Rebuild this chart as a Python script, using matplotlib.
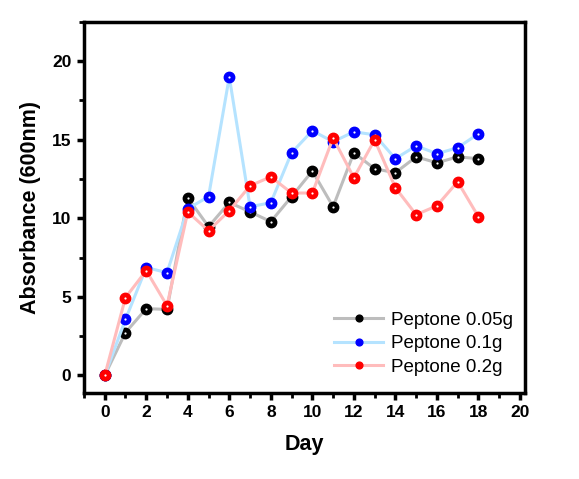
import matplotlib
matplotlib.use("Agg")
import matplotlib.pyplot as plt
from matplotlib.ticker import MultipleLocator

plt.rcParams['font.family'] = ['Liberation Sans', 'DejaVu Sans']

# data
days = list(range(19))
pep_005 = [0, 2.73, 4.25, 4.2, 11.3, 9.46, 11.0, 10.4, 9.78, 11.37, 13.0, 10.73,
           14.16, 13.14, 12.89, 13.9, 13.52, 13.9, 13.78]
pep_01 = [0, 3.56, 6.86, 6.54, 10.6, 11.37, 18.98, 10.73, 10.98, 14.16, 15.56, 14.86,
          15.49, 15.3, 13.78, 14.6, 14.1, 14.48, 15.37]
pep_02 = [0, 4.95, 6.67, 4.44, 10.4, 9.2, 10.48, 12.06, 12.63, 11.6, 11.6, 15.1,
          12.57, 14.98, 11.94, 10.22, 10.79, 12.32, 10.09]

series = [
    ("Peptone 0.05g", pep_005, "#bdbdbd", "black"),
    ("Peptone 0.1g", pep_01, "#b5e3ff", "#0000ff"),
    ("Peptone 0.2g", pep_02, "#ffbcbc", "#ff0000"),
]

fig = plt.figure(figsize=(5.79, 4.79), dpi=100)
ax = fig.add_axes([0.145, 0.18, 0.762, 0.775])

for label, vals, lc, mc in series:
    ax.plot(days, vals, '-o', color=lc, lw=2.2, marker='o', ms=7.5,
            mfc=mc, mec=mc, label=label)
    # small highlight in the middle of each marker
    ax.plot(days, vals, 'o', color='white', ms=1.6, mec='none')

ax.set_xlim(-1, 20.25)
ax.set_ylim(-1.1, 22.5)
ax.xaxis.set_major_locator(MultipleLocator(2))
ax.xaxis.set_minor_locator(MultipleLocator(1))
ax.yaxis.set_major_locator(MultipleLocator(5))
ax.yaxis.set_minor_locator(MultipleLocator(2.5))
ax.set_yticks([0, 5, 10, 15, 20])

for s in ax.spines.values():
    s.set_linewidth(2.5)
ax.tick_params(which='major', direction='out', length=5, width=2.5, labelsize=12.5, pad=4)
ax.tick_params(which='minor', direction='out', length=3.5, width=2)
for t in ax.get_xticklabels() + ax.get_yticklabels():
    t.set_fontweight('bold')

ax.set_xlabel("Day", fontsize=15.5, fontweight='bold', labelpad=10)
ax.set_ylabel("Absorbance (600nm)", fontsize=15.5, fontweight='bold', labelpad=8)

leg = ax.legend(loc='lower right', frameon=False, fontsize=13.5,
                handlelength=2.6, handletextpad=0.4, labelspacing=0.35,
                markerscale=0.65, bbox_to_anchor=(1.01, 0.0))

fig.savefig("out.png", dpi=100)
